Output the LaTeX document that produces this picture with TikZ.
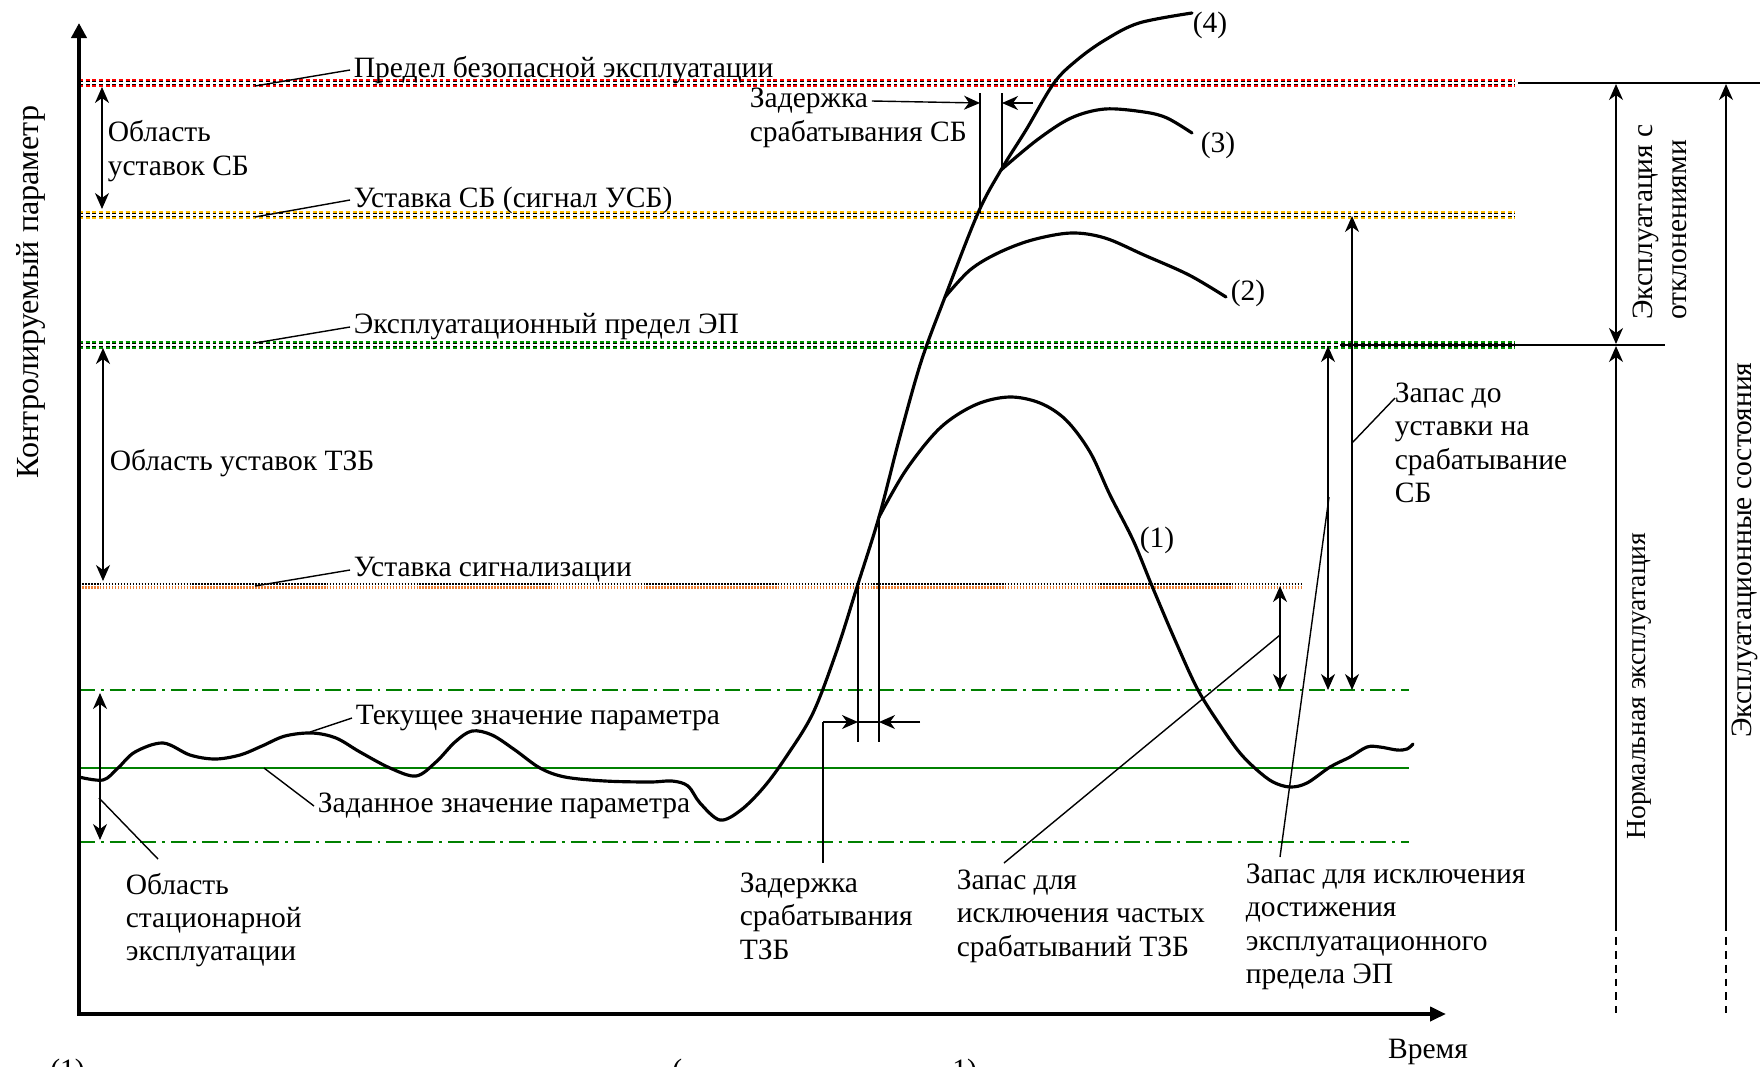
\documentclass[tikz,border=0pt]{standalone}
\usepackage{fontspec}
\setmainfont{Liberation Serif}
\usetikzlibrary{arrows.meta,calc}
\definecolor{limred}{RGB}{255,0,0}
\definecolor{limyellow}{RGB}{255,192,0}
\definecolor{limgreen}{RGB}{0,150,0}
\definecolor{setgreen}{RGB}{0,128,0}
\definecolor{sigorange}{RGB}{237,125,49}

\begin{document}
\begin{tikzpicture}[x=0.02cm,y=-0.02cm,
  >={Stealth[length=3.2mm,width=2.8mm,inset=1mm]},
  font=\fontsize{16.8}{19}\selectfont,
  txt/.style={inner sep=2pt,align=left,anchor=west},
  thinln/.style={line width=0.8pt},
  curve/.style={line width=1.8pt,line join=round,line cap=round},
  limline/.style={line width=5pt,dash pattern=on 2.2pt off 1.6pt},
  limblack/.style={line width=2.1pt,black,dash pattern=on 2.2pt off 1.6pt},
  limgap/.style={line width=0.7pt,white,dash pattern=on 2.2pt off 1.6pt},
  dashdot/.style={line width=1.4pt,setgreen,dash pattern=on 9pt off 3.4pt on 1.7pt off 3.4pt},
  brk/.style={thinln,dash pattern=on 4.5pt off 3.4pt}]
\fill[white] (0,0) rectangle (1762,1066);
\useasboundingbox (0,0) rectangle (1762,1066);

% limit lines
\foreach \yy/\cc in {83/limred,215/limyellow,345/limgreen}{
  \draw[limline,\cc] (79,\yy) -- (1515,\yy);
  \draw[limblack] (79,\yy) -- (1515,\yy);
  \draw[limgap] (79,\yy) -- (1515,\yy);
}
\draw[sigorange,line width=1.6pt,dash pattern=on 0.9pt off 0.8pt] (79,587.5) -- (1301,587.5);
\draw[line width=0.9pt,dash pattern=on 0.9pt off 0.8pt] (79,584) -- (1301,584);
\draw[dashdot] (79,690) -- (1409,690);
\draw[dashdot] (79,842) -- (1409,842);
\draw[setgreen,line width=1.2pt] (79,768) -- (1409,768);
\draw[thinln] (1518,83) -- (1760,83);
\draw[thinln] (1340,345) -- (1665,345);

% axes
\draw[line width=2.2pt,{Triangle[length=3mm,width=3mm]}-{Triangle[length=3.2mm,width=2.8mm]}]
  (79,23) -- (79,1014) -- (1446,1014);

% parameter curves
\draw[curve] plot[smooth,tension=0.55] coordinates {(79,777) (103,780) (118,768) (135,752)
  (163,743) (190,755) (215,759) (240,755) (262,746) (285,736) (312,733) (336,738) (360,752)
  (390,768) (416,776) (436,762) (455,742) (472,731) (492,735) (515,750) (540,768) (565,777)
  (605,781) (650,782) (672,781) (688,786) (700,803) (720,820) (741,810) (764,787) (786,757)
  (813,713) (837,650) (857,587) (879,517) (899,440) (921,362) (945,297) (978,213) (1001,170)
  (1026,130) (1054,83) (1077,60) (1105,40) (1139,23) (1192,13)};
\draw[curve] plot[smooth,tension=0.55] coordinates {(879,517) (906,470) (940,428) (975,405)
  (1009,397) (1040,403) (1066,420) (1090,452) (1110,495) (1133,540) (1152,586) (1175,640)
  (1198,690) (1222,728) (1240,753) (1257,770) (1273,782) (1290,787) (1307,783) (1330,767)
  (1350,757) (1367,747) (1380,747) (1397,750) (1407,749) (1413,744)};
\draw[curve] plot[smooth,tension=0.55] coordinates {(945,297) (970,270) (998,253) (1032,240)
  (1071,233) (1105,238) (1144,255) (1189,275) (1226,297)};
\draw[curve] plot[smooth,tension=0.55] coordinates {(1001,170) (1037,140) (1071,118)
  (1105,109) (1144,112) (1167,118) (1192,133)};

% delay of TZB
\draw[thinln] (858,587) -- (858,742);
\draw[thinln] (879,517) -- (879,742);
\draw[thinln,->] (823,722) -- (858,722);
\draw[thinln] (858,722) -- (879,722);
\draw[thinln,->] (920,722) -- (879,722);
% delay of SB
\draw[thinln] (980,93) -- (980,213);
\draw[thinln] (1002,93) -- (1002,170);
\draw[thinln,->] (1033,103) -- (1002,103);

% ranges
\draw[thinln,<->] (102,87) -- (102,209);
\draw[thinln,<->] (103,348) -- (103,581);
\draw[thinln,<->] (100,693) -- (100,840);
\draw[thinln,<->] (1280,586) -- (1280,690);
\draw[thinln,<->] (1328,346) -- (1328,690);
\draw[thinln,<->] (1352,216) -- (1352,690);
\draw[thinln,<->] (1616,84) -- (1616,344);
\draw[thinln,<-] (1616,346) -- (1616,923);
\draw[brk] (1616,923) -- (1616,1013);
\draw[thinln,<-] (1726,84) -- (1726,923);
\draw[brk] (1726,923) -- (1726,1013);

% labels
\node[txt] (tPredel) at (350,70) {Предел безопасной эксплуатации};
\node[txt] (tUSB) at (350,200) {Уставка СБ (сигнал УСБ)};
\node[txt] (tEP) at (350,327) {Эксплуатационный предел ЭП};
\node[txt] (tSig) at (350,570) {Уставка сигнализации};
\node[txt] (tCur) at (352,718) {Текущее значение параметра};
\node[txt] (tSet) at (314,806) {Заданное значение параметра};
\node[txt] (tSBreg) at (104,151) {Область\\уставок СБ};
\node[txt] (tTZBreg) at (106,463) {Область уставок ТЗБ};
\node[txt] (tStat) at (122,920) {Область\\стационарной\\эксплуатации};
\node[txt] (tDelTZB) at (736,916) {Задержка\\срабатывания\\ТЗБ};
\node[txt] (tFreq) at (953,916) {Запас для\\исключения частых\\срабатываний ТЗБ};
\node[txt] (tEPmarg) at (1242,927) {Запас для исключения\\достижения\\эксплуатационного\\предела ЭП};
\node[txt] (tSBmarg) at (1391,443) {Запас до\\уставки на\\срабатывание\\СБ};
\node[txt] (tDelSBa) at (746,101) {Задержка};
\node[txt] (tDelSBb) at (746,134) {срабатывания СБ};
\node (c1) at (1157,540) {(1)};
\node (c2) at (1248,293) {(2)};
\node (c3) at (1218,145) {(3)};
\node (c4) at (1210,25) {(4)};
\node (tTime) at (1428,1052) {Время};
\node[rotate=90,font=\fontsize{18.3}{21}\selectfont] (tAxis) at (31,292) {Контролируемый параметр};
\node[rotate=90,anchor=west,align=left,inner sep=0pt] (tDev) at (1660,320) {Эксплуатация с\\отклонениями};
\node[rotate=90,anchor=west,inner sep=0pt,font=\fontsize{15.7}{19}\selectfont] (tNorm) at (1639,840) {Нормальная эксплуатация};
\node[rotate=90,anchor=west,inner sep=0pt] (tStates) at (1745,738) {Эксплуатационные состояния};
\node[anchor=north west,inner sep=0pt] (cutA) at (50,1059) {(1)};
\node[anchor=north west,inner sep=0pt] (cutB) at (672,1059) {(};
\node[anchor=north west,inner sep=0pt] (cutC) at (952,1059) {1)};

% leaders
\draw[thinln] (255,86) -- (tPredel.west);
\draw[thinln] (255,217) -- (tUSB.west);
\draw[thinln] (255,343) -- (tEP.west);
\draw[thinln] (255,586) -- (tSig.west);
\draw[thinln] (310,732) -- (tCur.west);
\draw[thinln] (264,768) -- (tSet.west);
\draw[thinln] (99,798) -- (158,859);
\draw[thinln] (823,722) -- (823,863);
\draw[thinln] (1280,635) -- (1004,863);
\draw[thinln] (1329,497) -- (1280,857);
\draw[thinln] (1352,443) -- (1395,398);
\draw[thinln,->] (tDelSBa.east) -- (980,103);
\end{tikzpicture}
\end{document}
